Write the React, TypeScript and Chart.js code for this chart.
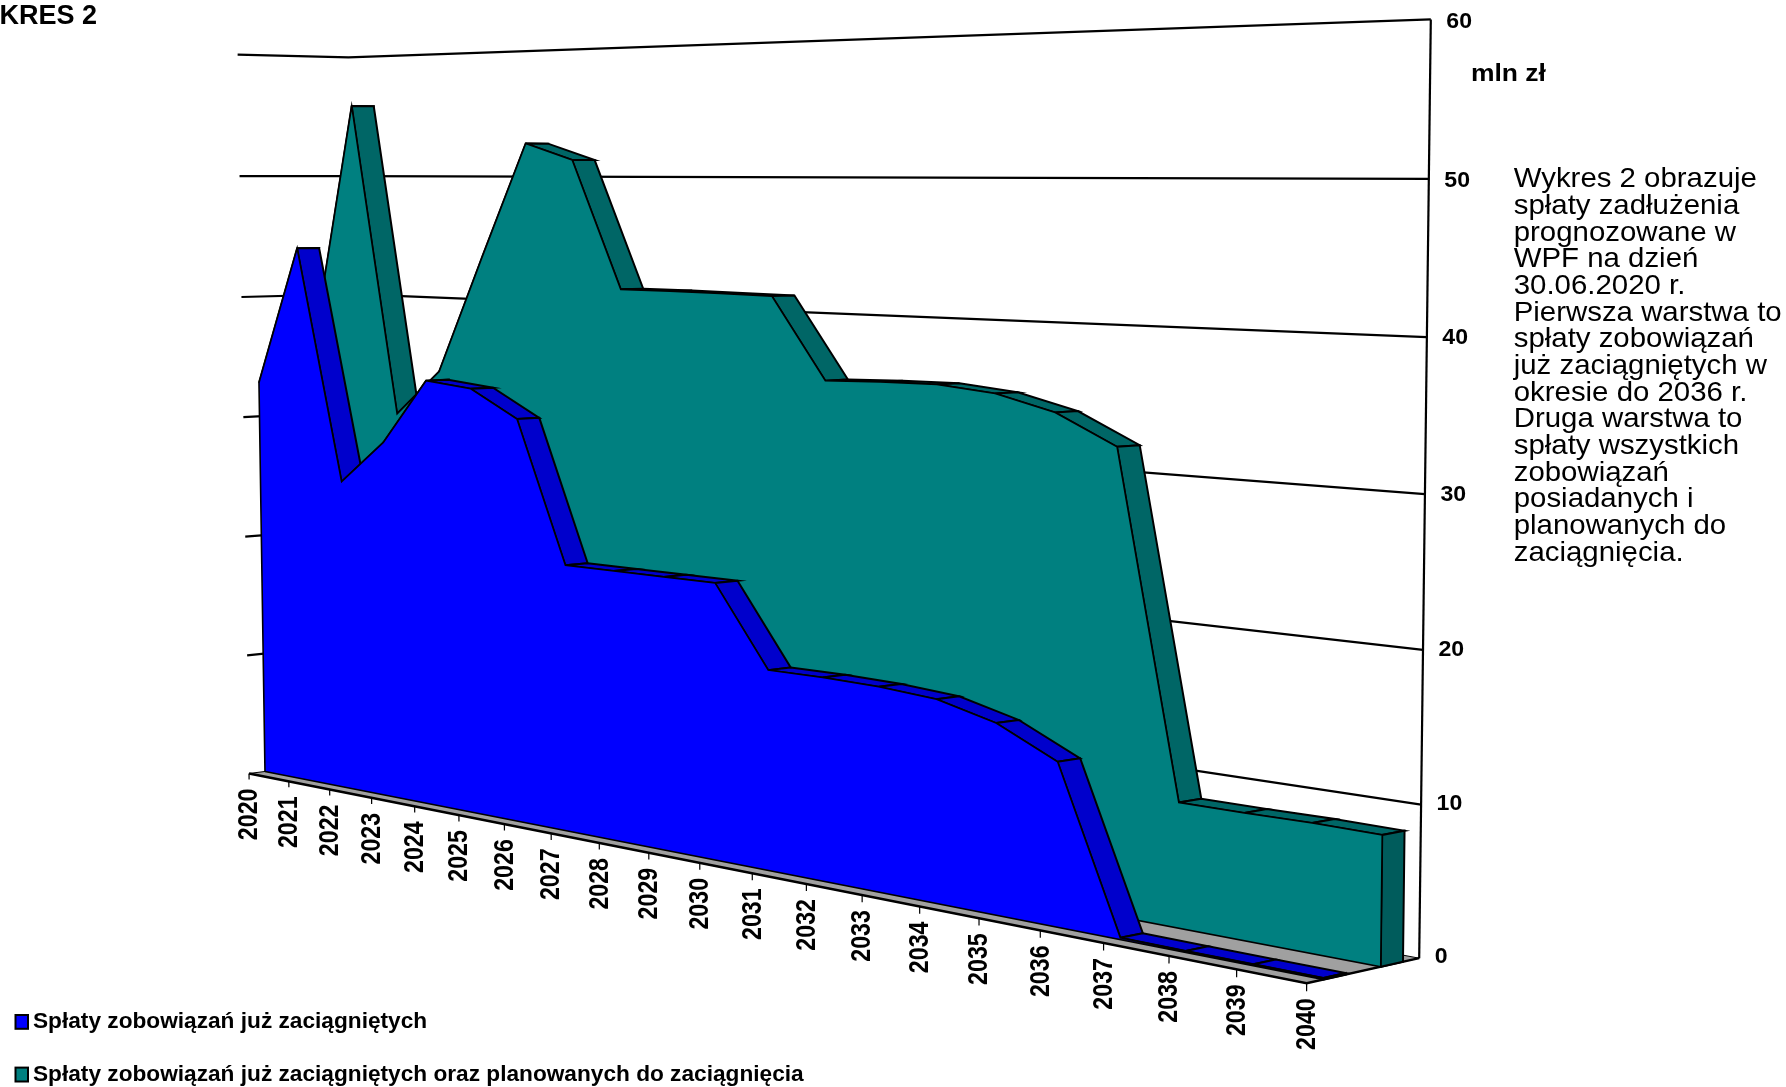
import React, { useEffect, useRef } from "react";
import { Chart, registerables } from "chart.js";

Chart.register(...registerables);

// ---- data ----
const years = ["2020","2021","2022","2023","2024","2025","2026","2027","2028","2029","2030","2031","2032","2033","2034","2035","2036","2037","2038","2039","2040"];
const planned = [36, 55.8, 30.5, 34.2, 43.5, 52.6, 51.3, 41.4, 41.4, 41.35, 41.3, 35.3, 35.45, 35.5, 35.1, 34.05, 32, 8.5, 8.5, 8.55, 8.5];
const contracted = [32.8, 44.1, 25.2, 28.7, 33.9, 33.5, 31.4, 20.5, 20.5, 20.5, 20.5, 14.63, 14.65, 14.55, 14.25, 13.2, 11.2, 0.13, 0.1, 0.1, 0.1];
const valueTicks = [60, 50, 40, 30, 20, 10, 0];
const seriesNames = ["Spłaty zobowiązań już zaciągniętych", "Spłaty zobowiązań już zaciągniętych oraz planowanych do zaciągnięcia"];
const unitLabel = "mln zł";
const titleText = "WYKRES 2";
const noteLines = [
  "Wykres 2 obrazuje", "spłaty zadłużenia", "prognozowane w", "WPF na dzień", "30.06.2020 r.",
  "Pierwsza warstwa to", "spłaty zobowiązań", "już zaciągniętych w", "okresie do 2036 r.", "Druga warstwa to",
  "spłaty wszystkich", "zobowiązań", "posiadanych i", "planowanych do", "zaciągnięcia.",
];

// ---- camera: origin, vanishing points and axis scale factors of the 3D box ----
const W = 1786, H = 1087;
const O = [249, 773.5], VX = [-2804, 168], VY = [907, 42345], VZ = [4945, 172];
const KX = -0.012865, KY = -0.0002833, KZ = 0.0237;
const project = (t: number, v: number, z: number) => {
  const st = KX * t, sv = KY * v, sz = KZ * z;
  const w = 1 + st + sv + sz;
  return {
    x: (O[0] + st * VX[0] + sv * VY[0] + sz * VZ[0]) / w,
    y: (O[1] + st * VX[1] + sv * VY[1] + sz * VZ[1]) / w,
  };
};
const Tmax = years.length - 1;
const Vmax = 60;

const BLUE = { front: 0.144, back: 0.34, face: "#0000FF", top: "#0000CC", cap: "#0000AA" };
const TEAL = { front: 0.651, back: 0.852, face: "#008080", top: "#006666", cap: "#005C5C" };

type Tri = [number, number, number];
const shape = (pts: Tri[], fillColor: string | null, width = 2, label = "") => ({
  label,
  data: pts.map((p) => project(p[0], p[1], p[2])),
  polygonFill: fillColor,
  showLine: true,
  borderColor: "#000000",
  borderWidth: width,
  borderJoinStyle: "miter",
  pointRadius: 0,
  tension: 0,
});

const seriesShapes = (vals: number[], s: typeof BLUE, name: string) => {
  const out: any[] = [];
  vals.slice(0, -1).forEach((v, i) => {
    out.push(shape([[i, v, s.front], [i, v, s.back], [i + 1, vals[i + 1], s.back], [i + 1, vals[i + 1], s.front], [i, v, s.front]], s.top));
  });
  const last = vals[vals.length - 1];
  out.push(shape([[Tmax, 0, s.front], [Tmax, 0, s.back], [Tmax, last, s.back], [Tmax, last, s.front], [Tmax, 0, s.front]], s.cap));
  const face: Tri[] = [[0, 0, s.front]];
  vals.forEach((v, i) => face.push([i, v, s.front]));
  face.push([Tmax, 0, s.front], [0, 0, s.front]);
  out.push(shape(face, s.face, 1.6, name));
  return out;
};

const buildDatasets = () => {
  const list: any[] = [];
  list.push(shape([[0, 0, 0], [Tmax, 0, 0], [Tmax, 0, 1], [0, 0, 1], [0, 0, 0]], "#A0A0A0", 1));
  list.push(shape([[0, 0, 0], [Tmax, 0, 0], [Tmax, 0, 1]], null, 2.4));
  valueTicks.filter((v) => v > 0).forEach((v) => list.push(shape([[Tmax, v, 1], [0, v, 1], [0, v, 0]], null, 2.2)));
  list.push(shape([[Tmax, 0, 1], [Tmax, Vmax, 1]], null, 2.2));
  years.forEach((_, i) => list.push(shape([[i, 0, 0], [i, -0.5, 0]], null, 1.2)));
  list.push(...seriesShapes(planned, TEAL, seriesNames[1]));
  list.push(...seriesShapes(contracted, BLUE, seriesNames[0]));
  list.forEach((d, i) => (d.order = list.length - i));
  return list;
};

const fillPlugin = {
  id: "polygonFill",
  beforeDatasetDraw(chart: any, args: any) {
    const ds = chart.data.datasets[args.index];
    if (!ds.polygonFill) return;
    const pts = args.meta.data;
    const ctx = chart.ctx;
    ctx.save();
    ctx.beginPath();
    pts.forEach((p: any, i: number) => (i ? ctx.lineTo(p.x, p.y) : ctx.moveTo(p.x, p.y)));
    ctx.closePath();
    ctx.fillStyle = ds.polygonFill;
    ctx.fill();
    ctx.restore();
  },
};

const put = (ctx: any, text: string, x: number, y: number, font: string, o: any = {}) => {
  ctx.save();
  ctx.font = font;
  ctx.fillStyle = "#000";
  ctx.textBaseline = o.baseline || "alphabetic";
  ctx.textAlign = o.align || "left";
  ctx.translate(x, y);
  if (o.rot) ctx.rotate(o.rot);
  ctx.scale(o.sx || 1, 1);
  ctx.fillText(text, 0, 0);
  ctx.restore();
};

const legendRows = [
  { color: BLUE.face, top: 1015, bottom: 1028.8 },
  { color: TEAL.face, top: 1067.6, bottom: 1081.5 },
];

const textPlugin = {
  id: "sceneText",
  afterDraw(chart: any) {
    const ctx = chart.ctx;
    const sx = chart.scales.x, sy = chart.scales.y;
    const px = (p: { x: number; y: number }) => ({ x: sx.getPixelForValue(p.x), y: sy.getPixelForValue(p.y) });
    const bold = (n: number) => `bold ${n}px "Liberation Sans"`;
    years.forEach((yr, i) => {
      const p = px(project(i, 0, 0));
      put(ctx, yr, p.x + 0.8, p.y + 15, bold(27), { rot: -Math.PI / 2, align: "right", baseline: "middle", sx: 0.86 });
    });
    valueTicks.forEach((v) => {
      const p = px(project(Tmax, v, 1));
      put(ctx, String(v), p.x + 15.5, p.y - 1.5 + v * 0.065, bold(22), { baseline: "middle", sx: 1.05 });
    });
    put(ctx, unitLabel, 1471, 81, bold(23), { sx: 1.15 });
    put(ctx, titleText, 97, 23.5, bold(27), { align: "right" });
    noteLines.forEach((line, i) => put(ctx, line, 1513.7, 187.4 + i * 26.66, '28px "Liberation Sans"', { sx: 1.05 }));
    legendRows.forEach((r, i) => {
      ctx.save();
      ctx.fillStyle = r.color;
      ctx.strokeStyle = "#000";
      ctx.lineWidth = 2;
      ctx.fillRect(15.5, r.top, 12.5, r.bottom - r.top);
      ctx.strokeRect(15.5, r.top, 12.5, r.bottom - r.top);
      ctx.restore();
      put(ctx, seriesNames[i], 33, (r.top + r.bottom) / 2 + 6.5, bold(22), { sx: 1.03 });
    });
  },
};

export default function App() {
  const ref = useRef<HTMLCanvasElement>(null);
  useEffect(() => {
    document.body.style.margin = "0";
    const chart = new Chart(ref.current as any, {
      type: "scatter",
      data: { datasets: buildDatasets() },
      plugins: [fillPlugin, textPlugin],
      options: {
        animation: false,
        responsive: false,
        devicePixelRatio: 1,
        layout: { padding: 0 },
        events: [],
        scales: {
          x: { type: "linear", min: 0, max: W, display: false },
          y: { type: "linear", min: 0, max: H, reverse: true, display: false },
        },
        plugins: { legend: { display: false }, tooltip: { enabled: false } },
      },
    } as any);
    return () => chart.destroy();
  }, []);
  return <canvas ref={ref} width={W} height={H} style={{ display: "block", position: "absolute", left: 0, top: 0 }} />;
}
